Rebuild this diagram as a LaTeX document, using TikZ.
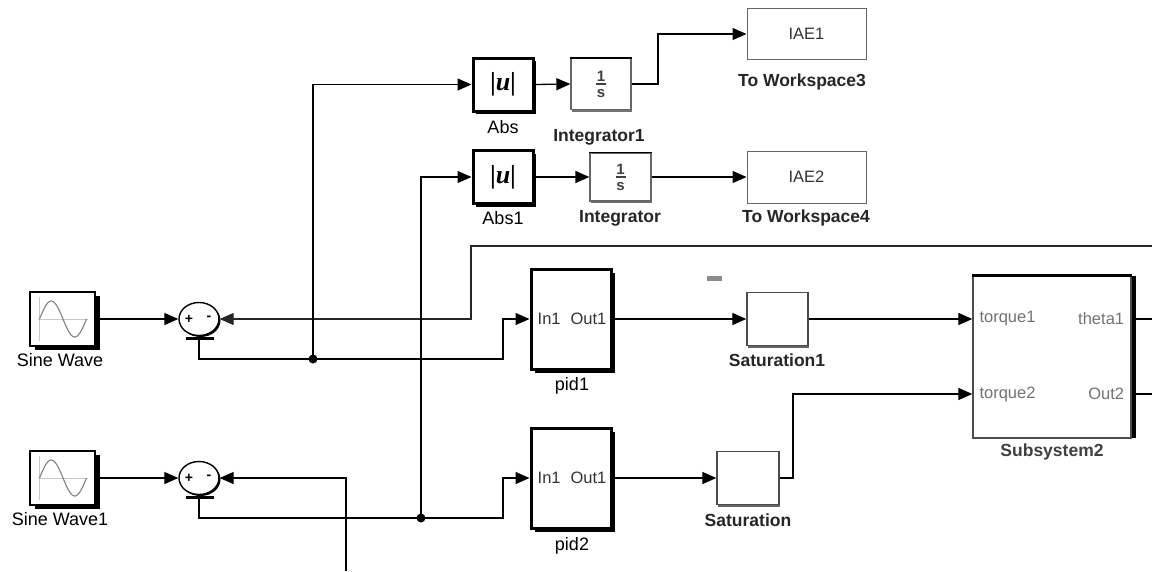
\documentclass[tikz,border=0pt]{standalone}
\usepackage{fontspec}
\setmainfont{Liberation Sans}
\newfontfamily\serifb{Liberation Serif}
\usetikzlibrary{arrows.meta,shadows,shapes.geometric,calc}
\begin{document}
\begin{tikzpicture}[x=1pt,y=-1pt,
  wire/.style={line width=1.3pt, line join=miter},
  sig/.style={wire, -{Triangle[length=14pt,width=12pt]}},
  lbl/.style={font=\fontsize{18}{20}\selectfont, inner sep=0pt},
  blbl/.style={font=\fontsize{17.5}{20}\selectfont\bfseries, inner sep=0pt, text=black!85},
  intxt/.style={font=\fontsize{16.5}{18}\selectfont, inner sep=0pt, text=black!80},
  porttxt/.style={font=\fontsize{16.5}{18}\selectfont, inner sep=0pt, text=black!55},
  fractxt/.style={font=\fontsize{15}{15}\selectfont\bfseries, inner sep=0pt, text=black!75},
  blk/.style={rectangle, fill=white, inner sep=0pt},
  shad/.style={general shadow={fill=black, shadow xshift=#1, shadow yshift=-#1}},
  sinebox/.style={blk, draw=black, line width=1.2pt, minimum width=65pt, minimum height=54pt,
     general shadow={fill=black, shadow xshift=5pt, shadow yshift=-4pt}},
  sumblk/.style={ellipse, fill=white, draw=black, line width=1.4pt, minimum width=40pt, minimum height=33pt, inner sep=0pt,
     general shadow={fill=black, shadow xshift=1.5pt, shadow yshift=-1.5pt}},
  absblk/.style={blk, draw=black, line width=3pt, minimum width=60pt, minimum height=53pt, shad=3pt,
     font=\serifb\fontsize{26}{26}\selectfont\bfseries},
  intblk/.style={blk, draw=black!60, line width=1.2pt, minimum width=60pt, minimum height=51pt,
     general shadow={fill=black!55, shadow xshift=0.5pt, shadow yshift=-2pt}},
  wsblk/.style={blk, draw=black!60, line width=1pt, minimum width=119pt, minimum height=51pt},
  pidblk/.style={blk, draw=black, line width=3pt, minimum width=80pt, minimum height=100pt, shad=4pt},
  satblk/.style={blk, draw=black!70, line width=1.4pt, minimum width=61pt, minimum height=53pt,
     general shadow={fill=black!60, shadow xshift=0.5pt, shadow yshift=-2pt}},
  subblk/.style={blk, draw=black!70, line width=1.4pt, minimum width=158pt, minimum height=162pt,
     general shadow={fill=black, shadow xshift=5pt, shadow yshift=0pt}},
  dot/.style={circle, fill=black, inner sep=0pt, minimum size=9pt}
]
\useasboundingbox (0,0) rectangle (1152,571);
\fill[white] (0,0) rectangle (1152,571);

% ---------- blocks ----------
\node[sinebox] (sine1) at (62.5,319) {};
\node[sinebox] (sine2) at (62.5,478) {};
\foreach \s in {sine1,sine2}{
  \draw[black!22, line width=0.9pt, shift={(\s.center)}] (-25,0) -- (25,0) (-23,-22) -- (-23,22);
  \draw[black!50, line width=1.1pt, shift={(\s.center)}] plot[domain=0:360, samples=60, smooth] ({-23+\x/360*47},{-18*sin(\x)});
}
\node[lbl] (sine1lbl) at (60,360) {Sine Wave};
\node[lbl] (sine2lbl) at (60,519) {Sine Wave1};

\node[sumblk] (sum1) at (199,319) {};
\node[sumblk] (sum2) at (199,478) {};
\foreach \s in {sum1,sum2}{
  \node[font=\fontsize{14}{14}\selectfont\bfseries, inner sep=0pt] (\s p) at ($(\s.center)+(-10,0)$) {+};
  \node[font=\fontsize{14}{14}\selectfont\bfseries, inner sep=0pt] (\s m) at ($(\s.center)+(10,-1)$) {-};
  \draw[line width=3pt] ($(\s.south)+(-13,2)$) -- ($(\s.south)+(15,2)$);
}

\node[absblk] (abs) at (503,84.5) {|\textit{u}|};
\node[absblk] (abs1) at (503,177) {|\textit{u}|};
\node[lbl] (abslbl) at (503,127) {Abs};
\node[lbl] (abs1lbl) at (503,218) {Abs1};

\node[intblk] (int1) at (601,84) {};
\node[intblk, minimum width=61pt, minimum height=48pt] (int) at (620.5,177) {};
\foreach \s in {int1,int}{
  \draw[black, line width=1.6pt] (\s.north west) -- (\s.north east);
  \node[fractxt] (\s n) at ($(\s.center)+(0,-8)$) {1};
  \node[fractxt] (\s d) at ($(\s.center)+(0,10)$) {s};
  \draw[black!75, line width=1.1pt] ($(\s.center)+(-5,0)$) -- ($(\s.center)+(5,0)$);
}
\node[blbl] (int1lbl) at (599,137) {Integrator1};
\node[blbl] (intlbl) at (620,218) {Integrator};

\node[wsblk] (ws3) at (806.5,34) {};
\node[wsblk, minimum height=52pt] (ws4) at (806.5,177) {};
\node[intxt] (ws3t) at (ws3.center) {IAE1};
\node[intxt] (ws4t) at (ws4.center) {IAE2};
\node[blbl] (ws3lbl) at (802,82) {To Workspace3};
\node[blbl] (ws4lbl) at (806,218) {To Workspace4};

\node[pidblk] (pid1) at (571,319) {};
\node[pidblk] (pid2) at (571,478) {};
\foreach \s in {pid1,pid2}{
  \node[intxt, anchor=west] (\s in) at ($(\s.west)+(8,0)$) {In1};
  \node[intxt, anchor=east] (\s out) at ($(\s.east)+(-6,0)$) {Out1};
}
\node[lbl] (pid1lbl) at (572,386) {pid1};
\node[lbl] (pid2lbl) at (572,546) {pid2};

\node[satblk] (sat1) at (777.5,319) {};
\node[satblk, minimum width=62pt] (sat) at (748,478) {};
\node[blbl] (sat1lbl) at (777,360) {Saturation1};
\node[blbl] (satlbl) at (748,520) {Saturation};
\fill[black!45] (707,276) rectangle (722,281);

\node[subblk] (sub) at (1052,357) {};
\draw[line width=2.5pt] (sub.north west) -- (sub.north east);
\coordinate (sp1) at (sub.west |- sat1.east);
\coordinate (sp2) at ($(sub.west)+(0,37)$);
\node[porttxt, anchor=west] (t1) at ($(sp1)+(7,0)$) {torque1};
\node[porttxt, anchor=west] (t2) at ($(sp2)+(7,0)$) {torque2};
\node[porttxt, anchor=east] (th1) at ($(sp1)+(152,0)$) {theta1};
\node[porttxt, anchor=east] (o2t) at ($(sp2)+(152,0)$) {Out2};
\node[blbl, text=black!75] (sublbl) at (1052,452) {Subsystem2};

% ---------- coordinates ----------
\coordinate (topend) at (1152,246);
\coordinate (fb1) at (471,319);
\coordinate (b1) at (503,359);
\coordinate (b2) at (503,518);
\coordinate (j1) at (313,359);
\coordinate (j2) at (421,518);
\coordinate (botend) at (346,571);
\coordinate (c1) at (658,60);
\coordinate (c2) at (793,430);
\coordinate (so1) at ($(sp1)+(163,0)$);
\coordinate (so2) at ($(sp2)+(163,0)$);
\coordinate (o1) at (1152,319);
\coordinate (o2) at (1152,394);

% ---------- connectors ----------
\draw[sig] (sine1.east) -- (sum1.west);
\draw[sig] (sine2.east) -- (sum2.west);
\draw[sig, draw=black!85] (topend) -| (fb1) -- (sum1.east);
\draw[sig] (botend) |- (sum2.east);
\draw[sig] (sum1.south) |- (b1) |- (pid1.west);
\draw[sig] (sum2.south) |- (b2) |- (pid2.west);
\draw[sig] (j1) |- (abs.west);
\draw[sig] (j2) |- (abs1.west);
\node[dot] (dot1) at (j1) {};
\node[dot] (dot2) at (j2) {};
\draw[sig] (abs.east) -- (int1.west);
\draw[sig] (abs1.east) -- (int.west);
\draw[sig] (int1.east) -| (c1) |- (ws3.west);
\draw[sig] (int.east) -- (ws4.west);
\draw[sig] (pid1.east) -- (sat1.west);
\draw[sig] (pid2.east) -- (sat.west);
\draw[sig] (sat1.east) -- (sp1);
\draw[sig] (sat.east) -| (c2) |- (sp2);
\draw[wire] (so1) -- (o1);
\draw[wire] (so2) -- (o2);
\end{tikzpicture}
\end{document}
